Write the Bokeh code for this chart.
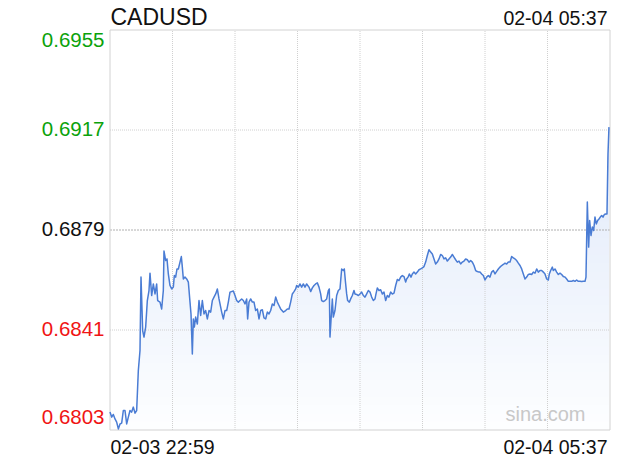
import numpy as np
from bokeh.plotting import figure
from bokeh.models import Range1d, Label
from bokeh.embed import file_html
from bokeh.resources import INLINE

# ---------------- data ----------------
symbol = "CADUSD"
start_label = "02-03 22:59"
end_label = "02-04 05:37"
session_minutes = 398          # 22:59 -> 05:37
prev_close = 0.6879
y_low, y_high = 0.6803, 0.6955
y_tick_values = [0.6955, 0.6917, 0.6879, 0.6841, 0.6803]
y_tick_labels = ["0.6955", "0.6917", "0.6879", "0.6841", "0.6803"]
y_tick_colors = ["#0ba20b", "#0ba20b", "#111111", "#f01414", "#f01414"]

minutes_a = [0, 1.33, 2.65, 3.98, 5.31, 6.63, 7.96, 9.29, 10.61, 11.94, 13.27, 14.59, 15.92, 17.25,
             18.57, 19.90, 21.23, 22.55, 23.88, 24.68, 26.00, 27.06, 28.39, 29.72, 31.04, 31.84, 33.17,
             34.49, 35.82, 37.15, 37.94, 39.80, 41.13, 42.45, 42.98, 44.31, 45.37, 46.43, 47.76, 49.09,
             50.41, 51.21, 52.27, 53.33, 54.39, 55.72, 56.78, 57.58, 58.38, 59.70, 61.03, 62.36, 63.68,
             64.48, 65.54, 66.34, 67.13, 68.19, 69.52, 70.85, 72.17, 73.50, 74.83, 76.15, 77.48, 78.81,
             80.13, 81.46, 82.79, 84.11, 85.44, 86.77, 88.09, 88.89, 90.21, 91.54, 92.87, 94.19]
price_a = [0.68098, 0.68079, 0.68089, 0.68072, 0.68060, 0.68034, 0.68053, 0.68056, 0.68104, 0.68104,
           0.68053, 0.68079, 0.68104, 0.68098, 0.68117, 0.68094, 0.68104, 0.68256, 0.68332, 0.68611,
           0.68408, 0.68383, 0.68421, 0.68522, 0.68560, 0.68626, 0.68541, 0.68585, 0.68547, 0.68585,
           0.68522, 0.68516, 0.68490, 0.68560, 0.68710, 0.68674, 0.68680, 0.68623, 0.68579, 0.68566,
           0.68573, 0.68617, 0.68611, 0.68642, 0.68642, 0.68668, 0.68689, 0.68649, 0.68604, 0.68611,
           0.68604, 0.68592, 0.68516, 0.68471, 0.68319, 0.68452, 0.68421, 0.68459, 0.68433, 0.68522,
           0.68465, 0.68522, 0.68471, 0.68484, 0.68452, 0.68484, 0.68478, 0.68522, 0.68535, 0.68547,
           0.68566, 0.68528, 0.68497, 0.68478, 0.68452, 0.68484, 0.68484, 0.68516]

minutes_b = [95.52, 98.17, 99.50, 100.83, 102.15, 103.48, 104.81, 106.13, 107.46, 108.79, 109.58, 110.64,
             111.97, 113.30, 114.62, 115.95, 117.28, 118.60, 119.93, 121.26, 122.58, 123.91, 125.24,
             126.56, 127.89, 129.22, 130.54, 131.87, 133.20, 134.52, 135.85, 137.97, 139.83, 141.15,
             142.48, 143.81, 145.13, 146.46, 147.79, 148.58, 149.91, 151.23, 152.56, 153.89, 155.21,
             156.54, 158.40, 159.72, 161.05, 162.38, 163.70, 165.03, 166.36, 167.68, 168.48, 169.81,
             171.13, 172.46, 173.79, 174.58, 175.11, 175.91, 176.97, 177.76, 179.09, 180.42, 181.74,
             183.07, 184.40, 185.72, 186.52, 187.32, 188.38, 189.17, 190.50, 191.56, 192.89, 194.21]
price_b = [0.68554, 0.68558, 0.68541, 0.68522, 0.68516, 0.68522, 0.68528, 0.68522, 0.68509, 0.68528,
           0.68452, 0.68516, 0.68528, 0.68516, 0.68516, 0.68484, 0.68490, 0.68452, 0.68484, 0.68487,
           0.68456, 0.68452, 0.68478, 0.68471, 0.68484, 0.68509, 0.68503, 0.68535, 0.68516, 0.68503,
           0.68490, 0.68478, 0.68484, 0.68490, 0.68490, 0.68516, 0.68547, 0.68556, 0.68566, 0.68579,
           0.68573, 0.68585, 0.68573, 0.68585, 0.68573, 0.68585, 0.68573, 0.68556, 0.68570, 0.68579,
           0.68585, 0.68589, 0.68573, 0.68547, 0.68522, 0.68518, 0.68522, 0.68528, 0.68560, 0.68566,
           0.68383, 0.68446, 0.68528, 0.68459, 0.68484, 0.68541, 0.68560, 0.68566, 0.68642, 0.68636,
           0.68642, 0.68598, 0.68547, 0.68522, 0.68516, 0.68528, 0.68541, 0.68560]

minutes_c = [195.02, 196.35, 197.67, 199.00, 200.33, 201.65, 202.98, 204.31, 205.63, 206.96, 208.29,
             209.61, 210.94, 211.73, 212.80, 214.12, 215.45, 216.78, 218.10, 219.43, 220.76, 222.08,
             223.41, 224.73, 226.06, 227.39, 228.71, 230.04, 231.37, 232.69, 234.02, 235.35, 236.14,
             237.47, 238.26, 239.59, 240.65, 241.98, 243.30, 244.63, 245.96, 247.28, 248.61, 249.94,
             251.26, 252.59, 253.92, 255.24, 256.57, 257.90, 259.22, 260.55, 261.88, 263.20, 264.53,
             265.86, 267.18, 268.51, 269.84, 271.16, 272.49, 273.82, 275.14, 276.47, 277.80, 279.12,
             280.45, 281.78, 283.10, 284.43, 285.76, 287.08, 288.41, 289.74, 291.06, 292.39, 293.72]
price_c = [0.68547, 0.68545, 0.68541, 0.68547, 0.68554, 0.68541, 0.68535, 0.68547, 0.68560, 0.68554,
           0.68535, 0.68522, 0.68528, 0.68547, 0.68570, 0.68560, 0.68563, 0.68547, 0.68554, 0.68522,
           0.68541, 0.68535, 0.68554, 0.68547, 0.68550, 0.68579, 0.68602, 0.68598, 0.68611, 0.68617,
           0.68613, 0.68592, 0.68604, 0.68613, 0.68623, 0.68611, 0.68623, 0.68630, 0.68623, 0.68630,
           0.68639, 0.68642, 0.68646, 0.68651, 0.68668, 0.68693, 0.68715, 0.68706, 0.68699, 0.68680,
           0.68661, 0.68668, 0.68680, 0.68697, 0.68693, 0.68680, 0.68684, 0.68672, 0.68680, 0.68687,
           0.68697, 0.68687, 0.68677, 0.68668, 0.68672, 0.68661, 0.68668, 0.68672, 0.68680, 0.68677,
           0.68668, 0.68674, 0.68668, 0.68655, 0.68636, 0.68632, 0.68630]

minutes_d = [294.52, 295.85, 297.17, 298.50, 299.83, 301.15, 302.48, 303.81, 305.13, 306.46, 307.79,
             309.11, 310.44, 311.77, 313.09, 314.42, 315.75, 317.07, 318.40, 319.73, 321.05, 322.38,
             323.71, 325.03, 326.36, 327.69, 329.01, 330.34, 331.67, 332.99, 334.32, 335.65, 336.97,
             338.30, 339.63, 340.95, 342.28, 343.61, 344.93, 346.26, 347.59, 348.91, 349.71, 350.77,
             352.10, 352.89, 354.22, 355.54, 356.87, 358.20, 359.52, 360.85, 362.18, 363.50, 364.83,
             366.16, 367.48, 368.81, 370.14, 371.46, 372.79, 374.12, 375.44, 376.77, 378.10, 378.89,
             379.95, 381.01, 381.81, 382.87, 383.93, 384.99, 386.05, 387.11, 388.17, 389.23, 390.29,
             391.36, 392.42, 393.48, 394.54, 395.60, 396.40, 397.19]
price_d = [0.68630, 0.68623, 0.68617, 0.68600, 0.68611, 0.68617, 0.68611, 0.68630, 0.68636, 0.68623,
           0.68633, 0.68642, 0.68649, 0.68655, 0.68659, 0.68664, 0.68661, 0.68668, 0.68668, 0.68689,
           0.68684, 0.68680, 0.68674, 0.68664, 0.68655, 0.68642, 0.68623, 0.68604, 0.68611, 0.68621,
           0.68623, 0.68621, 0.68630, 0.68626, 0.68642, 0.68630, 0.68636, 0.68636, 0.68630, 0.68623,
           0.68604, 0.68600, 0.68623, 0.68636, 0.68649, 0.68636, 0.68642, 0.68630, 0.68621, 0.68626,
           0.68621, 0.68613, 0.68611, 0.68604, 0.68595, 0.68595, 0.68595, 0.68598, 0.68595, 0.68600,
           0.68595, 0.68595, 0.68594, 0.68595, 0.68595, 0.68611, 0.68896, 0.68725, 0.68826, 0.68769,
           0.68801, 0.68788, 0.68839, 0.68813, 0.68826, 0.68832, 0.68839, 0.68845, 0.68839, 0.68849,
           0.68851, 0.68851, 0.69079, 0.69181]

# ---------------- assemble ----------------
xs, ys = [], []
for m, v in [(minutes_a, price_a), (minutes_b, price_b), (minutes_c, price_c), (minutes_d, price_d)]:
    n = min(len(m), len(v))
    xs.extend(m[:n])
    ys.extend(v[:n])
minutes = np.array(xs, dtype=float)
price = np.array(ys, dtype=float)

# ---------------- layout (pixels) ----------------
W, H = 616, 458
BOX_L, BOX_R, BOX_T, BOX_B = 109.5, 609.5, 29.5, 429.5
FONT = "Liberation Sans"

# ranges chosen so that the plot box sits at BOX_* while the frame fills the canvas
kx = session_minutes / (BOX_R - BOX_L)
ky = (y_high - y_low) / (BOX_B - BOX_T)
x_start = 0 - BOX_L * kx
x_end = x_start + W * kx
y_end = y_high + BOX_T * ky
y_start = y_end - H * ky

p = figure(width=W, height=H,
           x_range=Range1d(x_start, x_end), y_range=Range1d(y_start, y_end),
           output_backend="svg", toolbar_location=None,
           x_axis_location=None, y_axis_location=None,
           min_border=0, min_border_left=0, min_border_right=0,
           min_border_top=0, min_border_bottom=0)
p.xgrid.visible = False
p.ygrid.visible = False
p.outline_line_color = None
p.background_fill_color = "white"
p.border_fill_color = "white"

# gradient fill under the line (stacked bands, each covering everything below)
n_bands = 48
edges = np.linspace(y_low, y_high, n_bands + 1)
top_rgb = np.array([214, 226, 248], dtype=float)
bot_rgb = np.array([253, 254, 255], dtype=float)
for i in range(n_bands, 0, -1):
    frac = ((edges[i - 1] + edges[i]) / 2 - y_low) / (y_high - y_low)
    r, g, b = (bot_rgb + (top_rgb - bot_rgb) * frac).round().astype(int)
    col = "#%02x%02x%02x" % (r, g, b)
    p.varea(x=minutes, y1=np.full_like(price, y_low), y2=np.minimum(price, edges[i]),
            fill_color=col, fill_alpha=1.0)

# grid lines drawn over the fill
vx = np.linspace(0, session_minutes, 9)[1:-1]
p.segment(x0=vx, y0=np.full_like(vx, y_low), x1=vx, y1=np.full_like(vx, y_high),
          line_color="#d0d0d0", line_width=1, line_dash="1 1")
hy = np.array([v for v in y_tick_values[1:-1] if v != prev_close])
p.segment(x0=np.zeros_like(hy), y0=hy, x1=np.full_like(hy, session_minutes), y1=hy,
          line_color="#d0d0d0", line_width=1, line_dash="1 1")
p.segment(x0=[0], y0=[prev_close], x1=[session_minutes], y1=[prev_close],
          line_color="#b0b0b0", line_width=1, line_dash="2 1")

# plot box
p.quad(left=[0], right=[session_minutes], bottom=[y_low], top=[y_high],
       fill_color=None, line_color="#d2d2d2", line_width=1)

# price line
p.line(minutes, price, line_color="#4a7cd4", line_width=1.5, line_join="round")

# y labels
offsets = [-9.5, 0.8, 0.8, 0.8, 13]
for v, t, c, off in zip(y_tick_values, y_tick_labels, y_tick_colors, offsets):
    p.add_layout(Label(x=0, y=v, text=t, x_offset=-5.5, y_offset=off,
                       text_align="right", text_baseline="alphabetic",
                       text_font=FONT, text_font_size="20.5px", text_color=c))

# title and time labels
p.add_layout(Label(x=0, y=y_high, text=symbol, x_offset=0.5, y_offset=13.5,
                   text_align="left", text_baseline="alphabetic",
                   text_font=FONT, text_font_size="23px", text_color="#111111"))
p.add_layout(Label(x=session_minutes, y=y_high, text=end_label, x_offset=-2.5, y_offset=12,
                   text_align="right", text_baseline="alphabetic",
                   text_font=FONT, text_font_size="19.5px", text_color="#111111"))
p.add_layout(Label(x=0, y=y_low, text=start_label, x_offset=0.5, y_offset=-17,
                   text_align="left", text_baseline="alphabetic",
                   text_font=FONT, text_font_size="19.5px", text_color="#111111"))
p.add_layout(Label(x=session_minutes, y=y_low, text=end_label, x_offset=-2.5, y_offset=-17,
                   text_align="right", text_baseline="alphabetic",
                   text_font=FONT, text_font_size="19.5px", text_color="#111111"))
p.add_layout(Label(x=session_minutes, y=y_low, text="sina.com", x_offset=-24.5, y_offset=16,
                   text_align="right", text_baseline="alphabetic",
                   text_font=FONT, text_font_size="20px", text_color="#c8c8c8"))

open("out.html", "w").write(file_html(p, INLINE))
